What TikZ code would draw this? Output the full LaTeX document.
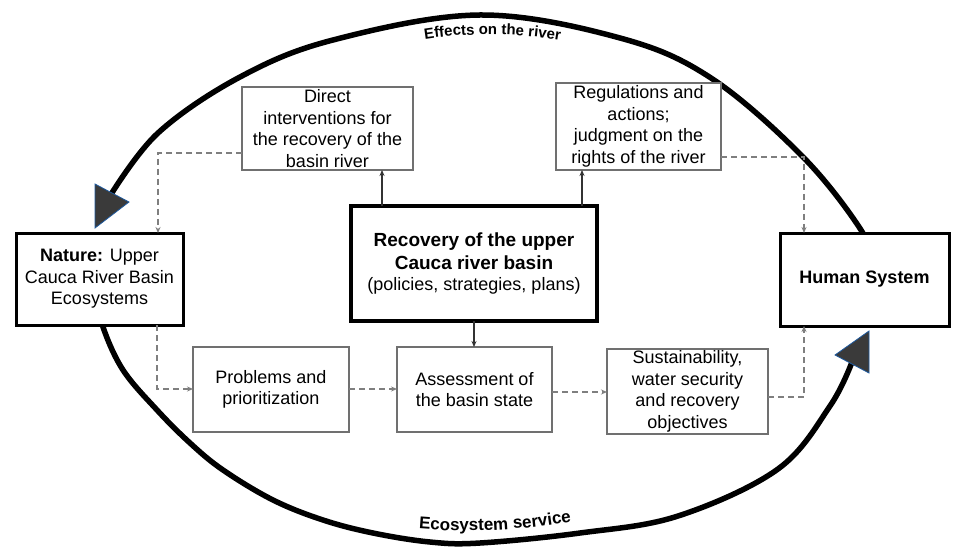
\documentclass[tikz,border=0pt]{standalone}
\usepackage{fontspec}
\setmainfont{Liberation Sans}
\usetikzlibrary{arrows.meta,decorations.text}
\definecolor{boxgray}{HTML}{707070}
\definecolor{dashgray}{HTML}{7F7F7F}
\definecolor{solidgray}{HTML}{333333}
\definecolor{trifill}{HTML}{3A3A3A}
\definecolor{triedge}{HTML}{1F5A9E}
\newcommand{\bigbold}{\fontsize{19}{22.5}\selectfont\bfseries}
\begin{document}
\begin{tikzpicture}[x=1pt,y=-1pt,
  txt/.style={font=\fontsize{18}{21.5}\selectfont, align=center},
  blackbox/.style={txt, draw=black, line width=3pt, fill=white, inner sep=0pt, outer sep=0pt},
  graybox/.style={txt, draw=boxgray, line width=2pt, fill=white, inner sep=0pt, outer sep=0pt},
  dasharrow/.style={draw=dashgray, line width=1.8pt, dash pattern=on 6pt off 4pt, -{Stealth[length=6pt,width=5pt]}},
  solidarrow/.style={draw=solidgray, line width=1.8pt, -{Stealth[length=6pt,width=5pt]}},
  bigarc/.style={line width=5.5pt, draw=black},
  tri/.style={fill=trifill, draw=triedge, line width=0.8pt, line join=miter}
]
\useasboundingbox[fill=white] (0,0) rectangle (957,553);

% outer arcs
\draw[bigarc] plot[smooth, tension=0.6] coordinates {(110,196) (158,133) (240,77) (333,40) (480,15) (620,38) (711,78) (803,157) (861,230) (866,255)};
\draw[bigarc] plot[smooth, tension=0.6] coordinates {(99,300) (103,327) (123,370) (157,410) (190,443) (223,470) (273,500) (323,520) (373,533) (430,542) (480,543) (580,533) (678,516) (778,469) (830,406) (852,362)};

% arrowheads on arcs
\filldraw[tri] (95,184) -- (129,202) -- (95,228) -- cycle;
\filldraw[tri] (869,331) -- (835,355) -- (869,373) -- cycle;

% arc labels
\path[decorate, decoration={text along path, text align=center,
  text={|\fontsize{15}{15}\selectfont\bfseries|Effects on the river}}]
  (405,43) .. controls (460,31.5) and (520,31.5) .. (580,44);
\path[decorate, decoration={text along path, text align=center,
  text={|\fontsize{17}{17}\selectfont\bfseries|Ecosystem service}}]
  (400,527) .. controls (450,533) and (520,533) .. (590,518);

% boxes
\node[blackbox, minimum width=167pt, minimum height=92pt] (nature) at (99.5,279)
  {\textbf{Nature:} Upper\\Cauca River Basin\\Ecosystems};
\node[blackbox, minimum width=169pt, minimum height=93pt] (human) at (864.5,279.5)
  {\textbf{Human System}};
\node[blackbox, line width=4.5pt, minimum width=246pt, minimum height=115pt] (central) at (474,263.5)
  {{\bigbold Recovery of the upper}\\[1pt]{\bigbold Cauca river basin}\\(policies, strategies, plans)};
\node[graybox, minimum width=171pt, minimum height=83pt] (direct) at (327.5,128.5)
  {Direct\\interventions for\\the recovery of the\\basin river};
\node[graybox, minimum width=165pt, minimum height=87pt] (regs) at (638.5,126.5)
  {Regulations and\\actions;\\judgment on the\\rights of the river};
\node[graybox, minimum width=156pt, minimum height=85pt] (problems) at (271,389.5)
  {Problems and\\prioritization};
\node[graybox, minimum width=155pt, minimum height=85pt] (assess) at (474.5,389.5)
  {Assessment of\\the basin state};
\node[graybox, minimum width=161pt, minimum height=85pt] (sustain) at (687.5,391.5)
  {Sustainability,\\water security\\and recovery\\objectives};

% helper coordinates
\coordinate (dl) at (158,153);
\coordinate (rr) at (804,157);
\coordinate (nb) at (157,389);
\coordinate (as) at (0,392);
\coordinate (sr) at (804,397);
\coordinate (c1) at (382,0);
\coordinate (c2) at (582,0);
\coordinate (c3) at (474,0);

% solid connectors
\draw[solidarrow] (central.north -| c1) -- (direct.south -| c1);
\draw[solidarrow] (central.north -| c2) -- (regs.south -| c2);
\draw[solidarrow] (central.south -| c3) -- (assess.north -| c3);

% dashed connectors
\draw[dasharrow] (direct.west |- dl) -| (nature.north -| dl);
\draw[dasharrow] (regs.east |- rr) -| (human.north -| rr);
\draw[dasharrow] (nature.south -| nb) |- (problems.west |- nb);
\draw[dasharrow] (problems.east |- nb) -- (assess.west |- nb);
\draw[dasharrow] (assess.east |- as) -- (sustain.west |- as);
\draw[dasharrow] (sustain.east |- sr) -| (human.south -| sr);
\end{tikzpicture}
\end{document}
